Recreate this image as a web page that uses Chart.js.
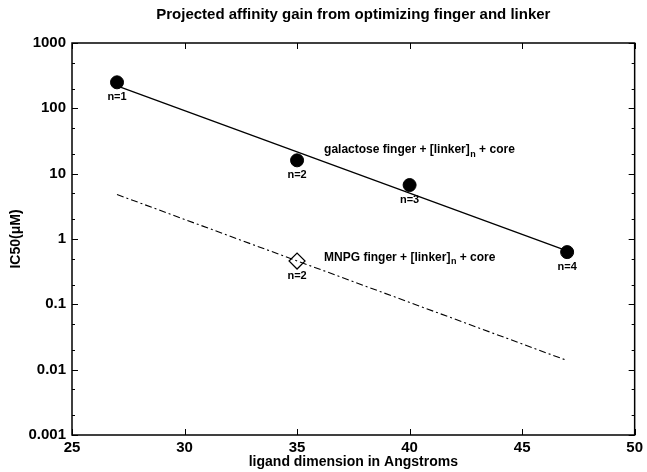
<!DOCTYPE html>
<html>
<head>
<meta charset="utf-8">
<script src="https://cdn.jsdelivr.net/npm/chart.js@4.4.0/dist/chart.umd.min.js"></script>
<style>
  html, body { margin: 0; padding: 0; background: #fff; }
  #wrap { width: 647px; height: 472px; position: relative; }
</style>
</head>
<body>
<div id="wrap"><canvas id="chart"></canvas></div>
<script>
// data
const galactoseX = [27, 35, 40, 47];
const galactoseIC50 = [250, 16, 6.7, 0.63];
const galactoseLabels = ['n=1', 'n=2', 'n=3', 'n=4'];

const mnpgX = [35];
const mnpgIC50 = [0.46];
const mnpgLabels = ['n=2'];

// fitted trend lines (end points)
const galactoseFitX = [27, 47];
const galactoseFitY = [220, 0.66];
const mnpgFitX = [27, 47];
const mnpgFitY = [4.8, 0.0138];

const xTicks = [25, 30, 35, 40, 45, 50];
const yTicks = [0.001, 0.01, 0.1, 1, 10, 100, 1000];
const yMinorTicks = [0.002, 0.005, 0.02, 0.05, 0.2, 0.5, 2, 5, 20, 50, 200, 500];

const chartTitle = 'Projected affinity gain from optimizing finger and linker';
const xTitle = 'ligand dimension in Angstroms';
const yTitle = 'IC50(\u03bcM)';

// series notes: [before subscript, subscript, after], anchored at data x / y
const galactoseNote = ['galactose finger + [linker]', 'n', ' + core'];
const galactoseNoteAt = [36.2, 23];
const mnpgNote = ['MNPG finger + [linker]', 'n', ' + core'];
const mnpgNoteAt = [36.2, 0.52];

const FONT = "'Liberation Sans', Arial, Helvetica, sans-serif";

const toPoints = function(xs, ys) {
  return xs.map((x, i) => ({ x: x, y: ys[i] }));
};

const drawNote = function(ctx, parts, px, py) {
  ctx.font = 'bold 12px ' + FONT;
  ctx.textAlign = 'left';
  ctx.textBaseline = 'middle';
  ctx.fillText(parts[0], px, py);
  let w = ctx.measureText(parts[0]).width;
  ctx.font = 'bold 9px ' + FONT;
  ctx.fillText(parts[1], px + w + 0.5, py + 4);
  w += ctx.measureText(parts[1]).width + 0.5;
  ctx.font = 'bold 12px ' + FONT;
  ctx.fillText(parts[2], px + w, py);
};

const decorations = {
  id: 'decorations',
  afterDraw(chart) {
    const { ctx, chartArea: a, scales: { x, y } } = chart;
    ctx.save();
    ctx.strokeStyle = '#000';
    ctx.fillStyle = '#000';

    // frame
    ctx.lineWidth = 1.5;
    ctx.strokeRect(a.left, a.top, a.right - a.left, a.bottom - a.top);

    // inward ticks on all four sides
    ctx.lineWidth = 1;
    ctx.beginPath();
    xTicks.forEach(v => {
      const px = Math.round(x.getPixelForValue(v)) + 0.5;
      ctx.moveTo(px, a.bottom); ctx.lineTo(px, a.bottom - 6);
      ctx.moveTo(px, a.top); ctx.lineTo(px, a.top + 6);
    });
    yTicks.forEach(v => {
      const py = Math.round(y.getPixelForValue(v)) + 0.5;
      ctx.moveTo(a.left, py); ctx.lineTo(a.left + 6, py);
      ctx.moveTo(a.right, py); ctx.lineTo(a.right - 6, py);
    });
    yMinorTicks.forEach(v => {
      const py = Math.round(y.getPixelForValue(v)) + 0.5;
      ctx.moveTo(a.left, py); ctx.lineTo(a.left + 3, py);
      ctx.moveTo(a.right, py); ctx.lineTo(a.right - 3, py);
    });
    ctx.stroke();

    // title
    ctx.font = 'bold 15px ' + FONT;
    ctx.textAlign = 'center';
    ctx.textBaseline = 'middle';
    ctx.fillText(chartTitle, (a.left + a.right) / 2, 15);

    // point labels under markers
    ctx.font = 'bold 11px ' + FONT;
    const labelSets = [[0, galactoseLabels], [1, mnpgLabels]];
    labelSets.forEach(([idx, labels]) => {
      const meta = chart.getDatasetMeta(idx);
      meta.data.forEach((pt, i) => {
        ctx.fillText(labels[i], pt.x, pt.y + 15);
      });
    });

    // series notes
    drawNote(ctx, galactoseNote, x.getPixelForValue(galactoseNoteAt[0]), y.getPixelForValue(galactoseNoteAt[1]));
    drawNote(ctx, mnpgNote, x.getPixelForValue(mnpgNoteAt[0]), y.getPixelForValue(mnpgNoteAt[1]));
    ctx.restore();
  }
};

const ctx = document.getElementById('chart').getContext('2d');
new Chart(ctx, {
  type: 'scatter',
  data: {
    datasets: [
      {
        label: 'galactose',
        data: toPoints(galactoseX, galactoseIC50),
        pointStyle: 'circle',
        pointRadius: 6.5,
        backgroundColor: '#000',
        borderColor: '#000',
        showLine: false
      },
      {
        label: 'MNPG',
        data: toPoints(mnpgX, mnpgIC50),
        pointStyle: 'rectRot',
        pointRadius: 8,
        backgroundColor: 'rgba(0,0,0,0)',
        borderColor: '#000',
        borderWidth: 1.2,
        showLine: false
      },
      {
        label: 'galactose fit',
        data: toPoints(galactoseFitX, galactoseFitY),
        showLine: true,
        pointRadius: 0,
        borderColor: '#000',
        borderWidth: 1.3
      },
      {
        label: 'MNPG fit',
        data: toPoints(mnpgFitX, mnpgFitY),
        showLine: true,
        pointRadius: 0,
        borderColor: '#000',
        borderWidth: 1.1,
        borderDash: [7, 3, 2, 3]
      }
    ]
  },
  options: {
    responsive: true,
    maintainAspectRatio: false,
    animation: false,
    layout: { padding: { top: 43, right: 9, bottom: 0, left: 0 } },
    plugins: {
      legend: { display: false },
      tooltip: { enabled: false }
    },
    scales: {
      x: {
        type: 'linear',
        min: 25,
        max: 50,
        afterBuildTicks: scale => { scale.ticks = xTicks.map(v => ({ value: v })); },
        afterFit: scale => { scale.height = 37; },
        grid: { display: false, drawTicks: false },
        border: { display: false },
        ticks: {
          padding: 4,
          color: '#000',
          font: { family: FONT, size: 15, weight: 'bold' }
        },
        title: {
          display: true,
          text: xTitle,
          color: '#000',
          padding: { top: 0, bottom: 1 },
          font: { family: FONT, size: 14, weight: 'bold' }
        }
      },
      y: {
        type: 'logarithmic',
        min: 0.001,
        max: 1000,
        afterBuildTicks: scale => { scale.ticks = yTicks.map(v => ({ value: v })); },
        afterFit: scale => { scale.width = 72; },
        grid: { display: false, drawTicks: false },
        border: { display: false },
        ticks: {
          padding: 6,
          color: '#000',
          font: { family: FONT, size: 15, weight: 'bold' },
          callback: v => String(v)
        },
        title: {
          display: true,
          text: yTitle,
          color: '#000',
          padding: { top: 8, bottom: 0 },
          font: { family: FONT, size: 14, weight: 'bold' }
        }
      }
    }
  },
  plugins: [decorations]
});
</script>
</body>
</html>
